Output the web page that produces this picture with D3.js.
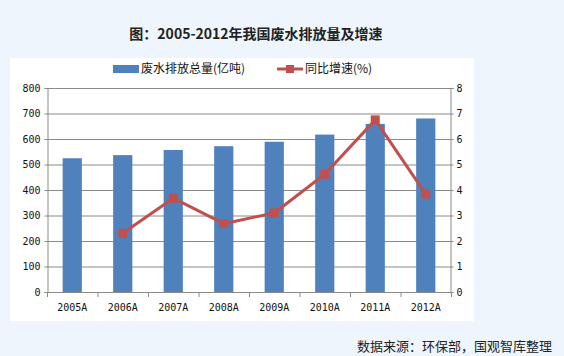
<!DOCTYPE html>
<html><head><meta charset="utf-8">
<script src="https://cdn.jsdelivr.net/npm/d3@7"></script>
<style>body{margin:0;background:#eef5fd;}svg{display:block;}</style>
</head><body>
<script>
const categories = ["2005A","2006A","2007A","2008A","2009A","2010A","2011A","2012A"];
const wasteWater = [524.5, 536.8, 556.8, 571.7, 589.2, 617.3, 659.2, 680.5];
const growthYears = ["2006A","2007A","2008A","2009A","2010A","2011A","2012A"];
const growthRate = [2.3, 3.68, 2.68, 3.1, 4.62, 6.75, 3.84];
const leftTicks = [0,100,200,300,400,500,600,700,800];
const rightTicks = [0,1,2,3,4,5,6,7,8];
const title = "图：2005-2012年我国废水排放量及增速";
const legendLabels = ["废水排放总量(亿吨)","同比增速(%)"];
const source = "数据来源：环保部，国观智库整理";

const W=564,H=356;
const svg=d3.select("body").append("svg").attr("width",W).attr("height",H);
svg.append("rect").attr("width",W).attr("height",H).attr("fill","#eef5fd");
svg.append("rect").attr("x",10).attr("y",58).attr("width",464).attr("height",263).attr("fill","#fff");

const font="'Noto Sans CJK SC', sans-serif";
svg.append("text").attr("x",256).attr("y",39).attr("text-anchor","middle")
  .attr("font-family",font).attr("font-weight","bold").attr("font-size",14).attr("fill","#222").text(title);

const x=d3.scaleBand().domain(categories).range([47,451]).paddingInner(0.62).paddingOuter(0.31);
const xb=d3.scaleBand().domain(categories).range([47,451]);
const yL=d3.scaleLinear().domain([0,800]).range([292,88]);
const yR=d3.scaleLinear().domain([0,8]).range([292,88]);

// gridlines
svg.append("g").selectAll("line").data(leftTicks).join("line")
  .attr("x1",47).attr("x2",451).attr("y1",d=>yL(d)+0.5).attr("y2",d=>yL(d)+0.5)
  .attr("stroke","#8a8a8a").attr("stroke-width",1);

// bars
svg.append("g").selectAll("rect").data(wasteWater).join("rect")
  .attr("x",(d,i)=>x(categories[i])).attr("width",x.bandwidth())
  .attr("y",d=>yL(d)).attr("height",d=>yL(0)-yL(d)).attr("fill","#4f81bd");

// axes
const axL=svg.append("g").attr("transform","translate(47.5,0)")
  .call(d3.axisLeft(yL).tickValues(leftTicks).tickSize(3).tickPadding(4));
const axR=svg.append("g").attr("transform","translate(450.5,0)")
  .call(d3.axisRight(yR).tickValues(rightTicks).tickSize(3).tickPadding(3));
const axB=svg.append("g").attr("transform","translate(0,292.5)")
  .call(d3.axisBottom(xb).tickSize(0).tickPadding(11));
// category boundary ticks
svg.append("g").selectAll("line").data(categories.concat(["end"])).join("line")
  .attr("x1",(d,i)=>47.5+i*xb.step()).attr("x2",(d,i)=>47.5+i*xb.step())
  .attr("y1",292).attr("y2",297).attr("stroke","#8a8a8a");
[axL,axR,axB].forEach(a=>{
  a.selectAll("path,line").attr("stroke","#8a8a8a");
  a.selectAll("text").attr("font-family","'DejaVu Sans Mono', monospace").attr("font-size",10).attr("fill","#111");
});
axB.select(".domain").attr("d","M47,0H451");

// line
const line=d3.line().x((d,i)=>xb(growthYears[i])+xb.bandwidth()/2).y(d=>yR(d));
svg.append("path").datum(growthRate).attr("d",line).attr("fill","none")
  .attr("stroke","#c0504d").attr("stroke-width",3).attr("stroke-linejoin","round");
svg.append("g").selectAll("rect").data(growthRate).join("rect")
  .attr("x",(d,i)=>xb(growthYears[i])+xb.bandwidth()/2-4.5).attr("y",d=>yR(d)-4.5)
  .attr("width",9).attr("height",9).attr("fill","#c0504d");

// legend
svg.append("rect").attr("x",113).attr("y",65).attr("width",26).attr("height",8).attr("fill","#4f81bd");
svg.append("text").attr("x",141).attr("y",73).attr("font-family",font).attr("font-size",12).attr("fill","#111").text(legendLabels[0]);
svg.append("line").attr("x1",277).attr("x2",303).attr("y1",69).attr("y2",69).attr("stroke","#c0504d").attr("stroke-width",3);
svg.append("rect").attr("x",286).attr("y",65).attr("width",8).attr("height",8).attr("fill","#c0504d");
svg.append("text").attr("x",305).attr("y",73).attr("font-family",font).attr("font-size",12).attr("fill","#111").text(legendLabels[1]);

// source
svg.append("text").attr("x",552).attr("y",351).attr("text-anchor","end")
  .attr("font-family",font).attr("font-size",13).attr("fill","#222").text(source);
</script>
</body></html>
